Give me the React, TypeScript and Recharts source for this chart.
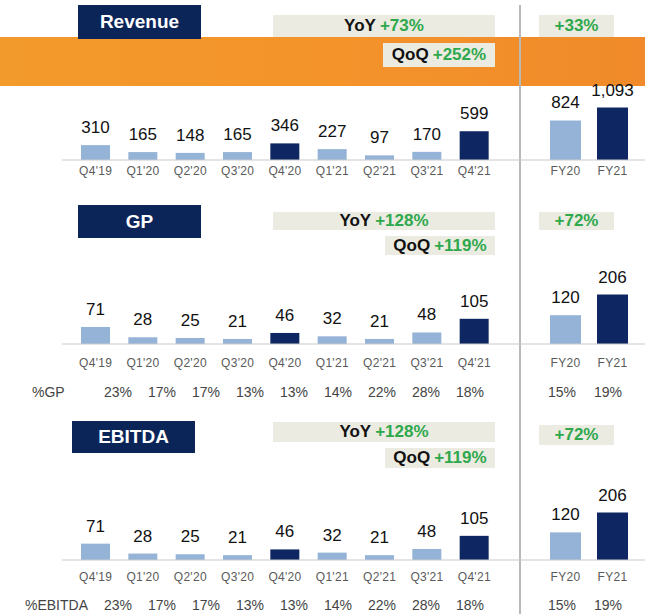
import React from 'react';
import { BarChart, Bar, XAxis, YAxis, Cell, LabelList } from 'recharts';

const quarters = ["Q4'19", "Q1'20", "Q2'20", "Q3'20", "Q4'20", "Q1'21", "Q2'21", "Q3'21", "Q4'21"];
const years = ['FY20', 'FY21'];
const highlighted = ["Q4'20", "Q4'21", 'FY21'];

const revenueQuarterly = [310, 165, 148, 165, 346, 227, 97, 170, 599];
const revenueYearly = [824, 1093];
const revenueGrowth = { yoy: '+73%', qoq: '+252%', fy: '+33%' };

const gpQuarterly = [71, 28, 25, 21, 46, 32, 21, 48, 105];
const gpYearly = [120, 206];
const gpMarginQuarterly = ['23%', '17%', '17%', '13%', '13%', '14%', '22%', '28%', '18%'];
const gpMarginYearly = ['15%', '19%'];
const gpGrowth = { yoy: '+128%', qoq: '+119%', fy: '+72%' };

const ebitdaQuarterly = [71, 28, 25, 21, 46, 32, 21, 48, 105];
const ebitdaYearly = [120, 206];
const ebitdaMarginQuarterly = ['23%', '17%', '17%', '13%', '13%', '14%', '22%', '28%', '18%'];
const ebitdaMarginYearly = ['15%', '19%'];
const ebitdaGrowth = { yoy: '+128%', qoq: '+119%', fy: '+72%' };

const LIGHT = '#95b3d7';
const DARK = '#0e2661';
const NAVY = '#0b2559';
const GREEN = '#2ea84c';
const BOX = '#ecebe1';
const FONT = '"Liberation Sans", Arial, sans-serif';

type Row = { cat: string; value: number; pct?: string };

const build = (cats: string[], values: number[], pcts?: string[]): Row[] =>
  cats.map((cat, i) => ({ cat, value: values[i], pct: pcts ? pcts[i] : undefined }));

const fmt = (v: number) => v.toLocaleString('en-US');

type BarsProps = {
  rows: Row[];
  left: number;
  plotTop: number;
  width: number;
  marginLeft: number;
  plotH: number;
  max: number;
  barSize: number;
  pad: { left: number; right: number };
  pctPad?: { left: number; right: number };
  catOff: number;
  pctOff?: number;
};

function Bars({ rows, left, plotTop, width, marginLeft, plotH, max, barSize, pad, pctPad, catOff, pctOff }: BarsProps) {
  const hasPct = !!pctPad;
  const height = 30 + plotH + 20 + (hasPct ? 44 : 0);
  return (
    <div style={{ position: 'absolute', left, top: plotTop - 30 }}>
      <BarChart width={width} height={height} data={rows} margin={{ top: 30, right: 0, left: marginLeft, bottom: 0 }}>
        <YAxis hide domain={[0, max]} />
        <XAxis
          xAxisId="main"
          dataKey="cat"
          height={20}
          padding={pad}
          tickSize={0}
          tickMargin={0}
          tickLine={false}
          axisLine={{ stroke: '#c9c9c9' }}
          interval={0}
          tick={(p: any) => (
            <text x={p.x} y={p.y + catOff} textAnchor="middle" dominantBaseline="central" fontSize={12} fill="#5a5a5a" fontFamily={FONT} letterSpacing={0.3}>
              {p.payload.value}
            </text>
          )}
        />
        {hasPct && (
          <XAxis
            xAxisId="pct"
            dataKey="cat"
            height={44}
            padding={pctPad}
            tickSize={0}
            tickMargin={0}
            tickLine={false}
            axisLine={false}
            interval={0}
            tick={(p: any) => (
              <text x={p.x} y={p.y + (pctOff || 0)} textAnchor="middle" dominantBaseline="central" fontSize={14} fill="#444" fontFamily={FONT}>
                {rows[p.index]?.pct}
              </text>
            )}
          />
        )}
        <Bar xAxisId="main" dataKey="value" barSize={barSize} isAnimationActive={false}>
          {rows.map((r) => (
            <Cell key={r.cat} fill={highlighted.includes(r.cat) ? DARK : LIGHT} />
          ))}
          <LabelList dataKey="value" position="top" offset={12} formatter={(v: any) => fmt(Number(v))} style={{ fontSize: 17, fill: '#111', fontFamily: FONT }} />
        </Bar>
      </BarChart>
    </div>
  );
}

function Box({ x, y, w, h, bg, size, color, children }: any) {
  return (
    <div
      style={{
        position: 'absolute', left: x, top: y, width: w, height: h, background: bg,
        display: 'flex', alignItems: 'center', justifyContent: 'center',
        fontWeight: 700, fontSize: size, fontFamily: FONT, color, whiteSpace: 'nowrap',
      }}
    >
      {children}
    </div>
  );
}

const Growth = ({ tag, value }: { tag?: string; value: string }) => (
  <>
    {tag && <span style={{ color: '#111', marginRight: 4 }}>{tag}</span>}
    <span style={{ color: GREEN }}>{value}</span>
  </>
);

const qPad = { left: 10, right: 22 };
const qPctPad = { left: 34, right: 28 };
const fyPad = { left: 22, right: 9 };
const fyPctPad = { left: 19, right: 14 };

export default function App() {
  return (
    <div style={{ position: 'absolute', left: 0, top: 0, width: 645, height: 614, background: '#fff', overflow: 'hidden', fontFamily: FONT }}>
      {/* orange band behind revenue header */}
      <div style={{ position: 'absolute', left: 0, top: 37, width: 645, height: 49, background: 'linear-gradient(90deg, #f39a2c, #f3922a 60%, #f08a2a)' }} />
      <div style={{ position: 'absolute', left: 519, top: 5, width: 2, height: 609, background: '#b9b9b9' }} />

      {/* Revenue */}
      <Box x={78} y={5} w={123} h={34} bg={NAVY} size={19} color="#fff">Revenue</Box>
      <Box x={273} y={15} w={222} h={22} bg={BOX} size={17}><Growth tag="YoY" value={revenueGrowth.yoy} /></Box>
      <Box x={539} y={15} w={75} h={22} bg={BOX} size={17}><Growth value={revenueGrowth.fy} /></Box>
      <Box x={383} y={43} w={112} h={24} bg={BOX} size={17}><Growth tag="QoQ" value={revenueGrowth.qoq} /></Box>
      <Bars rows={build(quarters, revenueQuarterly)} left={0} plotTop={90} width={520} marginLeft={62} plotH={70} max={1458} barSize={29} pad={qPad} catOff={11} />
      <Bars rows={build(years, revenueYearly)} left={520} plotTop={90} width={125} marginLeft={0} plotH={70} max={1458} barSize={31} pad={fyPad} catOff={11} />

      {/* GP */}
      <Box x={78} y={205} w={123} h={33} bg={NAVY} size={19} color="#fff">GP</Box>
      <Box x={273} y={212} w={222} h={18} bg={BOX} size={17}><Growth tag="YoY" value={gpGrowth.yoy} /></Box>
      <Box x={539} y={212} w={75} h={18} bg={BOX} size={17}><Growth value={gpGrowth.fy} /></Box>
      <Box x={385} y={236} w={110} h={19} bg={BOX} size={17}><Growth tag="QoQ" value={gpGrowth.qoq} /></Box>
      <Bars rows={build(quarters, gpQuarterly, gpMarginQuarterly)} left={0} plotTop={260} width={520} marginLeft={62} plotH={84} max={350} barSize={29} pad={qPad} pctPad={qPctPad} catOff={19} pctOff={28} />
      <Bars rows={build(years, gpYearly, gpMarginYearly)} left={520} plotTop={260} width={125} marginLeft={0} plotH={84} max={350} barSize={31} pad={fyPad} pctPad={fyPctPad} catOff={19} pctOff={28} />
      <div style={{ position: 'absolute', left: 32, top: 383, fontSize: 14, color: '#444', lineHeight: '18px' }}>%GP</div>

      {/* EBITDA */}
      <Box x={72} y={421} w={123} h={32} bg={NAVY} size={19} color="#fff">EBITDA</Box>
      <Box x={273} y={422} w={222} h={20} bg={BOX} size={17}><Growth tag="YoY" value={ebitdaGrowth.yoy} /></Box>
      <Box x={539} y={425} w={75} h={20} bg={BOX} size={17}><Growth value={ebitdaGrowth.fy} /></Box>
      <Box x={385} y={448} w={110} h={20} bg={BOX} size={17}><Growth tag="QoQ" value={ebitdaGrowth.qoq} /></Box>
      <Bars rows={build(quarters, ebitdaQuarterly, ebitdaMarginQuarterly)} left={0} plotTop={476} width={520} marginLeft={62} plotH={84} max={365} barSize={29} pad={qPad} pctPad={qPctPad} catOff={17} pctOff={25} />
      <Bars rows={build(years, ebitdaYearly, ebitdaMarginYearly)} left={520} plotTop={476} width={125} marginLeft={0} plotH={84} max={365} barSize={31} pad={fyPad} pctPad={fyPctPad} catOff={17} pctOff={25} />
      <div style={{ position: 'absolute', left: 25, top: 596, fontSize: 14, color: '#444', lineHeight: '18px' }}>%EBITDA</div>
    </div>
  );
}
